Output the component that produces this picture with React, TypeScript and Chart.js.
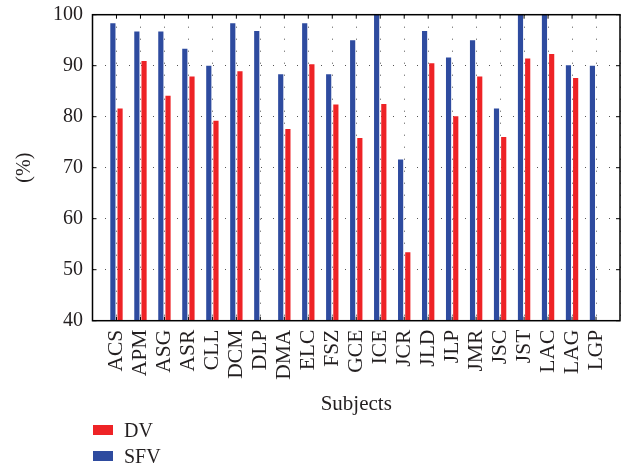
import React, { useEffect, useRef } from 'react';
import { Chart, registerables } from 'chart.js';

Chart.register(...registerables);

const categories = ['ACS', 'APM', 'ASG', 'ASR', 'CLL', 'DCM', 'DLP', 'DMA', 'ELC', 'FSZ', 'GCE', 'ICE', 'JCR', 'JLD', 'JLP', 'JMR', 'JSC', 'JST', 'LAC', 'LAG', 'LGP'];
const sfvValues = [98.3, 96.7, 96.7, 93.3, 90.0, 98.3, 96.8, 88.3, 98.3, 88.3, 95.0, 100, 71.6, 96.8, 91.6, 95.0, 81.6, 100, 100, 90.1, 90.0];
const dvValues = [81.6, 90.9, 84.1, 87.9, 79.2, 88.9, null, 77.6, 90.3, 82.4, 75.8, 82.5, 53.4, 90.5, 80.1, 87.9, 76.0, 91.4, 92.3, 87.6, null];
const yTicks = [40, 50, 60, 70, 80, 90, 100];

const FONT = "'Liberation Serif', 'Times New Roman', serif";
const TEXT = '#231f20';
const RED = '#ee2326';
const BLUE = '#2e4b9f';
const GRID = '#555555';

export default function App() {
  const ref = useRef<HTMLCanvasElement>(null);

  useEffect(() => {
    if (!ref.current) return;
    const labels = ['', ...categories, ''];
    const pad = (a: (number | null)[]) => [null, ...a, null];

    const framePlugin = {
      id: 'frame',
      afterDatasetsDraw(chart: any) {
        const { ctx, chartArea: a, scales } = chart;
        const line = (x1: number, y1: number, x2: number, y2: number) => {
          ctx.beginPath();
          ctx.moveTo(x1, y1);
          ctx.lineTo(x2, y2);
          ctx.stroke();
        };
        ctx.save();
        ctx.strokeStyle = '#000';
        ctx.lineWidth = 1;
        const xs = scales.x;
        for (let i = 1; i < labels.length - 1; i++) {
          const px = xs.getPixelForValue(i);
          line(px, a.top, px, a.top + 4);
          line(px, a.bottom, px, a.bottom - 4);
        }
        const ys = scales.y;
        for (const v of yTicks) {
          const py = ys.getPixelForValue(v);
          line(a.left, py, a.left + 4, py);
          line(a.right, py, a.right - 4, py);
        }
        ctx.lineWidth = 1.5;
        ctx.strokeRect(a.left, a.top, a.right - a.left, a.bottom - a.top);
        ctx.restore();
      },
    };

    const chart = new Chart(ref.current, {
      type: 'bar',
      data: {
        labels,
        datasets: [
          { label: 'SFV', data: pad(sfvValues), backgroundColor: BLUE, borderWidth: 0 },
          { label: 'DV', data: pad(dvValues), backgroundColor: RED, borderWidth: 0 },
        ],
      },
      options: {
        animation: false,
        responsive: true,
        maintainAspectRatio: false,
        categoryPercentage: 0.6,
        barPercentage: 0.72,
        layout: { padding: { top: 14.7, right: 9, bottom: 49.3, left: 0 } },
        plugins: {
          legend: { display: false },
          tooltip: { enabled: false },
        },
        scales: {
          x: {
            type: 'category',
            offset: false,
            grid: { offset: false, drawTicks: false, color: GRID, lineWidth: 1 },
            border: { display: false, dash: [1, 11] },
            ticks: {
              autoSkip: false,
              maxRotation: 90,
              minRotation: 90,
              padding: 9,
              color: TEXT,
              font: { family: FONT, size: 21.5 },
            },
            title: {
              display: true,
              text: 'Subjects',
              color: TEXT,
              font: { family: FONT, size: 21 },
              padding: { top: 4, bottom: 0 },
            },
            afterFit(s: any) {
              s.height = 96;
              s.paddingLeft = 0;
              s.paddingRight = 0;
            },
          },
          y: {
            min: 40,
            max: 100,
            grid: { drawTicks: false, color: GRID, lineWidth: 1 },
            border: { display: false, dash: [1, 11] },
            ticks: {
              stepSize: 10,
              padding: 9.5,
              color: TEXT,
              font: { family: FONT, size: 20 },
            },
            title: {
              display: true,
              text: '(%)',
              color: TEXT,
              font: { family: FONT, size: 20 },
              padding: { top: 13, bottom: 0 },
            },
            afterFit(s: any) {
              s.width = 92.5;
              s.paddingTop = 0;
              s.paddingBottom = 0;
            },
          },
        },
      },
      plugins: [framePlugin],
    });
    return () => chart.destroy();
  }, []);

  const legendItem = (color: string, text: string, top: number) => (
    <div style={{ position: 'absolute', left: 93, top, height: 20, display: 'flex', alignItems: 'center' }}>
      <div style={{ width: 20, height: 10, background: color, marginRight: 11 }} />
      <span style={{ fontFamily: FONT, fontSize: 20, lineHeight: '20px', color: TEXT }}>{text}</span>
    </div>
  );

  return (
    <div style={{ position: 'fixed', left: 0, top: 0, width: 629, height: 466, background: '#fff' }}>
      <div style={{ position: 'absolute', left: 0, top: 0, width: 629, height: 466 }}>
        <canvas ref={ref} />
      </div>
      {legendItem(RED, 'DV', 420)}
      {legendItem(BLUE, 'SFV', 446)}
    </div>
  );
}
